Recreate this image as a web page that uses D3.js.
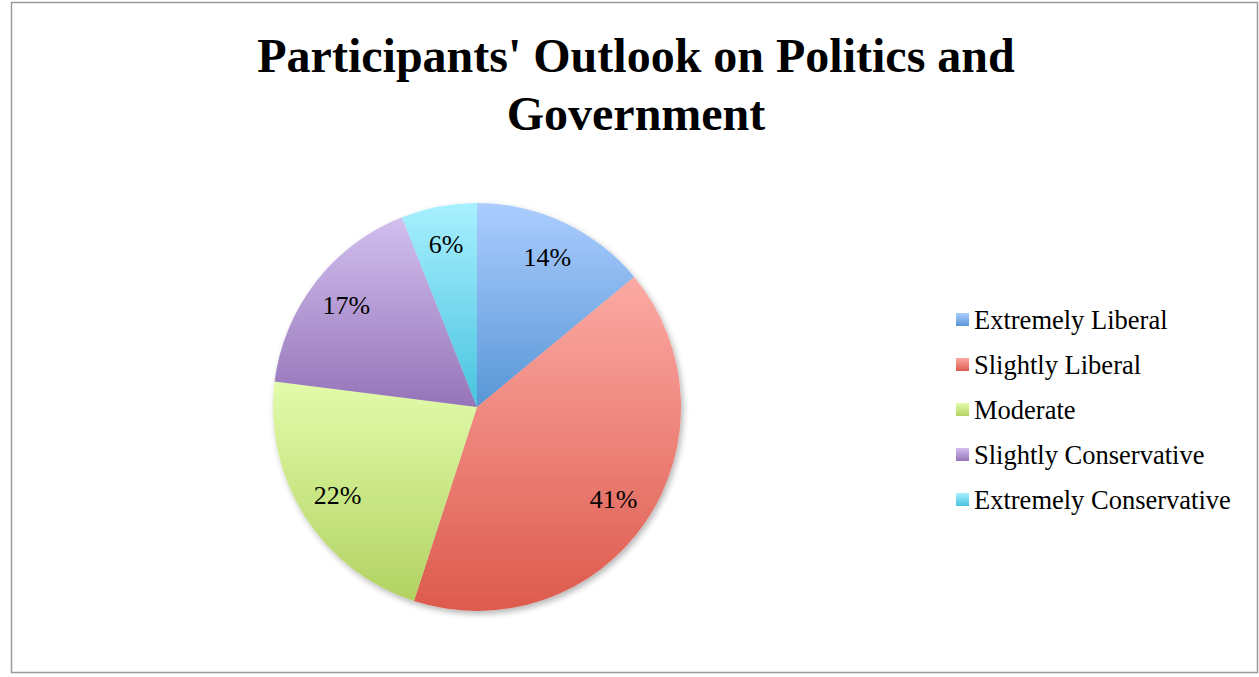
<!DOCTYPE html>
<html>
<head>
<meta charset="utf-8">
<script src="https://cdn.jsdelivr.net/npm/d3@7"></script>
<style>
  html, body { margin: 0; padding: 0; background: #fff; }
  svg { display: block; }
</style>
</head>
<body>
<svg id="chart" width="1259" height="677"></svg>
<script>
// Survey responses: political outlook of participants (percent)
const categories = ["Extremely Liberal", "Slightly Liberal", "Moderate", "Slightly Conservative", "Extremely Conservative"];
const values = [14, 41, 22, 17, 6];
const titleLines = ["Participants' Outlook on Politics and", "Government"];

// Light-to-dark vertical gradient stops for each slice
const topColors = ["#abcdff", "#fcaaa4", "#e2fcab", "#d2bfef", "#a8f0ff"];
const bottomColors = ["#5896d6", "#dd5a4d", "#b2d262", "#9574b8", "#48c3df"];

const W = 1259, H = 677;
const cx = 477, cy = 407, R = 204;
const serif = "'Liberation Serif', 'Times New Roman', serif";

const svg = d3.select("#chart");
const defs = svg.append("defs");

// Frame around the chart area
svg.append("rect")
  .attr("x", 11.5).attr("y", 2.5)
  .attr("width", 1246).attr("height", 670)
  .attr("fill", "#fff")
  .attr("stroke", "#9a9a9a")
  .attr("stroke-width", 1.5);

// Title
const title = svg.append("text")
  .attr("text-anchor", "middle")
  .attr("font-family", serif)
  .attr("font-weight", "bold")
  .attr("font-size", 48)
  .attr("fill", "#000");
titleLines.forEach((line, i) => {
  title.append("tspan").attr("x", 636).attr("y", 72 + i * 58).text(line);
});

// Gradients
categories.forEach((c, i) => {
  const g = defs.append("linearGradient")
    .attr("id", "grad" + i)
    .attr("x1", 0).attr("y1", 0).attr("x2", 0).attr("y2", 1);
  g.append("stop").attr("offset", "0%").attr("stop-color", topColors[i]);
  g.append("stop").attr("offset", "100%").attr("stop-color", bottomColors[i]);
});

// Soft shadow under the pie
const shadow = defs.append("filter").attr("id", "shadow")
  .attr("x", "-10%").attr("y", "-10%").attr("width", "125%").attr("height", "125%");
shadow.append("feGaussianBlur").attr("in", "SourceAlpha").attr("stdDeviation", 3).attr("result", "blur");
shadow.append("feOffset").attr("in", "blur").attr("dx", 2).attr("dy", 3).attr("result", "off");
shadow.append("feComponentTransfer").attr("in", "off").attr("result", "faded")
  .append("feFuncA").attr("type", "linear").attr("slope", 0.3);
const merge = shadow.append("feMerge");
merge.append("feMergeNode").attr("in", "faded");
merge.append("feMergeNode").attr("in", "SourceGraphic");

const pie = d3.pie().sort(null).value(d => d);
const arcs = pie(values);
const arc = d3.arc().innerRadius(0).outerRadius(R);
const labelArc = d3.arc().innerRadius(R * 0.81).outerRadius(R * 0.81);

const g = svg.append("g").attr("transform", `translate(${cx},${cy})`);
const slices = g.append("g").attr("filter", "url(#shadow)");
slices.selectAll("path")
  .data(arcs)
  .join("path")
  .attr("d", arc)
  .attr("fill", (d, i) => `url(#grad${i})`);

g.selectAll("text.lbl")
  .data(arcs)
  .join("text")
  .attr("class", "lbl")
  .attr("transform", d => `translate(${labelArc.centroid(d)})`)
  .attr("text-anchor", "middle")
  .attr("dy", "0.33em")
  .attr("font-family", serif)
  .attr("font-size", 26)
  .attr("fill", "#000")
  .text(d => d.data + "%");

// Legend
const legend = svg.append("g").attr("transform", "translate(956,320)");
const rows = legend.selectAll("g")
  .data(categories)
  .join("g")
  .attr("transform", (d, i) => `translate(0,${i * 45})`);
rows.append("rect")
  .attr("x", 0).attr("y", -7)
  .attr("width", 13).attr("height", 13)
  .attr("fill", (d, i) => `url(#grad${i})`);
rows.append("text")
  .attr("x", 18).attr("y", 9)
  .attr("font-family", serif)
  .attr("font-size", 26.5)
  .attr("fill", "#000")
  .text(d => d);
</script>
</body>
</html>
